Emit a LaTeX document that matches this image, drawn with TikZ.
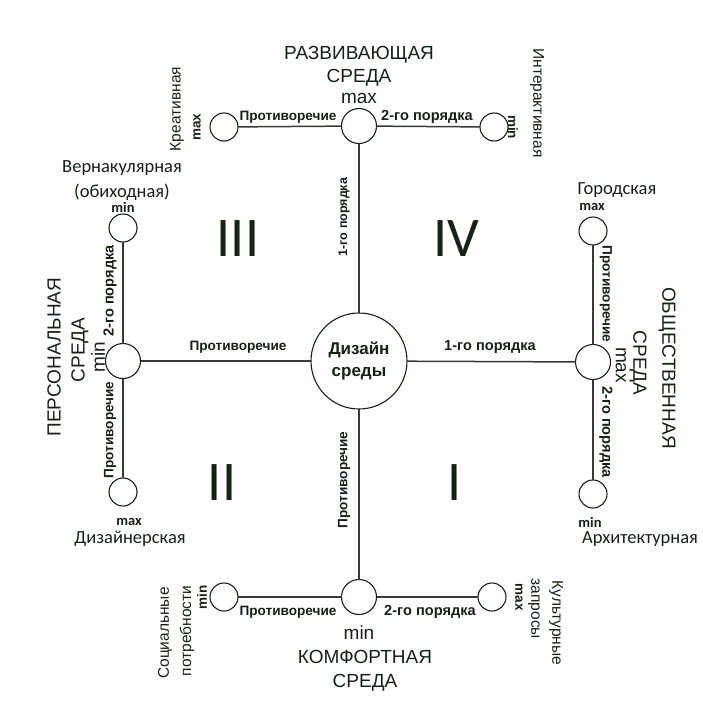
\documentclass[tikz,border=0pt]{standalone}
\usepackage{fontspec}
\setmainfont{Liberation Sans}
\newfontfamily\calib{Carlito}
\begin{document}
\definecolor{ink}{RGB}{22,34,22}
\definecolor{wire}{RGB}{55,58,55}
\begin{tikzpicture}[x=1pt,y=-1pt,
  every node/.style={text=ink, inner sep=0pt, outer sep=0pt},
  core/.style={circle, draw=ink, line width=1.1pt, minimum size=96pt,
    align=center, font=\bfseries\fontsize{17}{22}\selectfont},
  hub/.style={circle, draw=ink, line width=1.1pt, minimum size=35pt},
  leaf/.style={circle, draw=ink, line width=1.1pt, minimum size=28pt},
  link/.style={draw=wire, line width=1.5pt},
  elab/.style={font=\bfseries\fontsize{13.6}{15}\selectfont},
  olab/.style={font=\bfseries\fontsize{14.6}{16}\selectfont},
  slab/.style={font=\bfseries\fontsize{12.5}{14}\selectfont},
  big/.style={font=\fontsize{19}{21}\selectfont},
  side/.style={font=\fontsize{15.5}{17}\selectfont},
  lim/.style={font=\bfseries\fontsize{13.5}{15}\selectfont},
  cname/.style={font=\calib\fontsize{18.5}{20}\selectfont},
  clim/.style={font=\calib\bfseries\fontsize{14.5}{16}\selectfont},
  quad/.style={font=\calib\fontsize{56}{60}\selectfont},
  up/.style={rotate=90},
  down/.style={rotate=-90}]
\useasboundingbox (0,0) rectangle (703,704);
\fill[white] (0,0) rectangle (703,704);

% circles
\node[core] (c) at (359,361) {Дизайн\\среды};
\node[hub] (t) at (359,126) {};
\node[hub] (b) at (359,597) {};
\node[hub] (l) at (123,361) {};
\node[hub] (r) at (593,362) {};
\node[leaf] (tl) at (224,127) {};
\node[leaf] (tr) at (494,127) {};
\node[leaf] (bl) at (224,597) {};
\node[leaf] (br) at (492,597) {};
\node[leaf] (lt) at (123,228) {};
\node[leaf] (lb) at (123,492) {};
\node[leaf] (rt) at (593,231) {};
\node[leaf] (rb) at (593,494) {};

% connectors
\draw[link] (c) -- (t);
\draw[link] (c) -- (b);
\draw[link] (c) -- (l);
\draw[link] (c) -- (r);
\draw[link] (t) -- (tl);
\draw[link] (t) -- (tr);
\draw[link] (b) -- (bl);
\draw[link] (b) -- (br);
\draw[link] (l) -- (lt);
\draw[link] (l) -- (lb);
\draw[link] (r) -- (rt);
\draw[link] (r) -- (rb);

% quadrant numerals
\node[quad] (q3) at (238,239) {III};
\node[quad] (q4) at (456,239) {IV};
\node[quad] (q2) at (222,483) {II};
\node[quad] (q1) at (455,483) {I};

% top branch
\node[big] (tn1) at (359,55) {РАЗВИВАЮЩАЯ};
\node[big] (tn2) at (359,78) {СРЕДА};
\node[big] (tn3) at (359,98) {max};
\node[elab] (te1) at (288,117) {Противоречие};
\node[olab] (te2) at (427,117) {2-го порядка};
\node[lim,up] (tlm) at (197,127) {max};
\node[side,up] (tln) at (177,109) {Креативная};
\node[lim,down] (trm) at (513,127) {min};
\node[side,down] (trn) at (537,103) {Интерактивная};
\node[slab,up] (cte) at (344,217) {1-го порядка};

% bottom branch
\node[elab,up] (cbe) at (344,480) {Противоречие};
\node[elab] (be1) at (288,612) {Противоречие};
\node[olab] (be2) at (430,612) {2-го порядка};
\node[big] (bn3) at (359,633) {min};
\node[big] (bn1) at (365,657) {КОМФОРТНАЯ};
\node[big] (bn2) at (365,683) {СРЕДА};
\node[lim,up] (blm) at (202,597) {min};
\node[side,up] (bln1) at (165,633) {Социальные};
\node[side,up] (bln2) at (187,631) {потребности};
\node[lim,down] (brm) at (519,597) {max};
\node[side,down] (brn2) at (534,609) {запросы};
\node[side,down] (brn1) at (556,623) {Культурные};

% left branch
\node[cname] (ltn1) at (122,168) {Вернакулярная};
\node[cname] (ltn2) at (122,192) {(обиходная)};
\node[clim] (ltm) at (123,207) {min};
\node[olab,up] (le1) at (110,291) {2-го порядка};
\node[elab,up] (le2) at (110,430) {Противоречие};
\node[clim] (lbm) at (129,522) {max};
\node[cname] (lbn) at (130,539) {Дизайнерская};
\node[big,up] (ln1) at (54,357) {ПЕРСОНАЛЬНАЯ};
\node[big,up] (ln2) at (80,350) {СРЕДА};
\node[big,up] (ln3) at (98,357) {min};
\node[elab] (cle) at (238,347) {Противоречие};

% right branch
\node[cname] (rtn) at (617,190) {Городская};
\node[clim] (rtm) at (592,207) {max};
\node[elab,down] (re1) at (606,294) {Противоречие};
\node[olab,down] (re2) at (606,432) {2-го порядка};
\node[big,down] (rn1) at (667,368) {ОБЩЕСТВЕННАЯ};
\node[big,down] (rn2) at (638,363) {СРЕДА};
\node[big,down] (rn3) at (621,365) {max};
\node[clim] (rbm) at (590,522) {min};
\node[cname] (rbn) at (640,539) {Архитектурная};
\node[olab] (cre) at (490,347) {1-го порядка};
\end{tikzpicture}
\end{document}
